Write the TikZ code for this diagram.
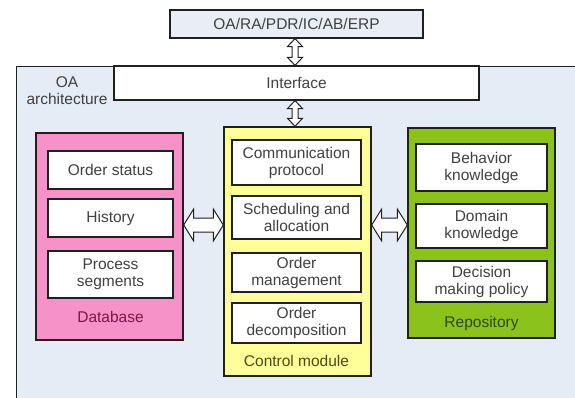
\documentclass[tikz,border=0pt]{standalone}
\usepackage{fontspec}
\setmainfont{Liberation Sans}
\usetikzlibrary{calc}
\definecolor{bg}{HTML}{E6ECF6}
\definecolor{topfill}{HTML}{E8EDF6}
\definecolor{pinkc}{HTML}{F792C9}
\definecolor{yel}{HTML}{FFFF99}
\definecolor{grn}{HTML}{8CC21C}
\definecolor{txt}{HTML}{404040}
\definecolor{edge}{HTML}{202020}
\definecolor{dblab}{HTML}{7A1848}
\definecolor{ctlab}{HTML}{4A4A10}
\definecolor{rplab}{HTML}{2E4A10}
\newcommand{\fs}{\fontsize{15.5}{17}\selectfont}
\begin{document}
\begin{tikzpicture}[x=1pt,y=-1pt,
  every node/.style={font=\fs, text=txt},
  outerbox/.style={draw=edge, line width=1.4pt, minimum width=147, inner sep=0},
  innerbox/.style={draw=edge, line width=1.4pt, fill=white, inner sep=0, align=center},
  blockarrow/.style={draw=edge, line width=1pt, fill=white, line join=miter}
]
\useasboundingbox (0,0) rectangle (575,398);
\clip (0,0) rectangle (575,398);
\fill[white] (0,0) rectangle (575,398);

% outer OA architecture frame
\node[draw=edge, line width=1.2pt, fill=bg, minimum width=600, minimum height=360, inner sep=0, anchor=north west] (oa) at (16,66) {};
\node[align=center] (oalab) at (67,91) {OA\\architecture};

% top box and interface
\node[draw=edge, line width=1.2pt, fill=topfill, minimum width=253, minimum height=28, inner sep=0] (ext) at (296.5,24) {OA/RA/PDR/IC/AB/ERP};
\node[draw=edge, line width=1.2pt, fill=white, minimum width=365, minimum height=34, inner sep=0] (intf) at (296.5,83) {Interface};

% database
\node[outerbox, fill=pinkc, minimum height=207] (db) at (109.5,236.5) {};
\node[innerbox, minimum width=125, minimum height=38] (os) at (110.5,170) {Order status};
\node[innerbox, minimum width=125, minimum height=38] (hist) at (110.5,218) {History};
\node[innerbox, minimum width=125, minimum height=47] (ps) at (110.5,274.5) {Process\\segments};
\node[text=dblab] (dblabel) at (110.5,317) {Database};

% control module
\node[outerbox, fill=yel, minimum height=249] (ctrl) at (297.5,251.5) {};
\node[innerbox, minimum width=129, minimum height=45] (cp) at (296.5,162.5) {Communication\\protocol};
\node[innerbox, minimum width=129, minimum height=43] (sa) at (296.5,217.5) {Scheduling and\\allocation};
\node[innerbox, minimum width=129, minimum height=39] (om) at (296.5,272.5) {Order\\management};
\node[innerbox, minimum width=129, minimum height=40] (od) at (296.5,323) {Order\\decomposition};
\node[text=ctlab] (ctlabel) at (296.5,361) {Control module};

% repository
\node[outerbox, fill=grn, minimum height=210] (rep) at (481.5,233) {};
\node[innerbox, minimum width=131, minimum height=47] (bk) at (481.5,167.5) {Behavior\\knowledge};
\node[innerbox, minimum width=131, minimum height=44] (dk) at (481.5,226) {Domain\\knowledge};
\node[innerbox, minimum width=131, minimum height=41] (dm) at (481.5,281.5) {Decision\\making policy};
\node[text=rplab] (rplabel) at (481.5,323) {Repository};

% anchor points for block arrows
\coordinate (v1a) at (ext.south -| 295,0);
\coordinate (v1b) at (intf.north -| 295,0);
\coordinate (v2a) at (intf.south -| 295,0);
\coordinate (v2b) at (ctrl.north -| 295,0);
\coordinate (h1a) at (db.east |- 0,225);
\coordinate (h1b) at (ctrl.west |- 0,225);
\coordinate (h2a) at (ctrl.east |- 0,225);
\coordinate (h2b) at (rep.west |- 0,225);

% vertical double block arrows (canvas y points up)
\foreach \a/\b in {v1a/v1b, v2a/v2b}{
  \draw[blockarrow] let \p1=(\a), \p2=(\b) in
    (\x1,\y1) -- (\x1+7.5pt,\y1-8pt) -- (\x1+3pt,\y1-8pt) -- (\x1+3pt,\y2+8pt) --
    (\x1+7.5pt,\y2+8pt) -- (\x1,\y2) -- (\x1-7.5pt,\y2+8pt) -- (\x1-3pt,\y2+8pt) --
    (\x1-3pt,\y1-8pt) -- (\x1-7.5pt,\y1-8pt) -- cycle;
}
% horizontal double block arrows
\foreach \a/\b in {h1a/h1b, h2a/h2b}{
  \draw[blockarrow] let \p1=(\a), \p2=(\b) in
    (\x1,\y1) -- (\x1+10pt,\y1+16pt) -- (\x1+10pt,\y1+7pt) -- (\x2-10pt,\y1+7pt) --
    (\x2-10pt,\y1+16pt) -- (\x2,\y1) -- (\x2-10pt,\y1-16pt) -- (\x2-10pt,\y1-7pt) --
    (\x1+10pt,\y1-7pt) -- (\x1+10pt,\y1-16pt) -- cycle;
}
\end{tikzpicture}
\end{document}
